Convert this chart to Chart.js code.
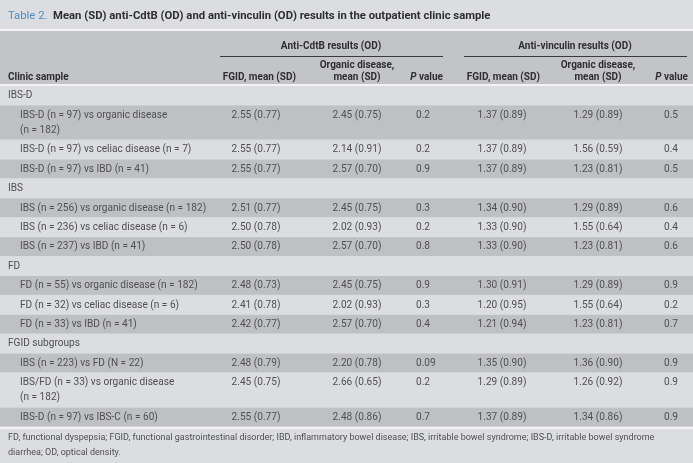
<!DOCTYPE html>
<html>
<head>
<meta charset="utf-8">
<title>Table 2</title>
<script src="https://cdn.jsdelivr.net/npm/chart.js@4.4.0/dist/chart.umd.min.js"></script>
<style>
  html, body { margin: 0; padding: 0; background: #dcdde0; }
  #wrap { width: 693px; height: 463px; position: relative; }
</style>
</head>
<body>
<div id="wrap"><canvas id="tableChart"></canvas></div>
<script>
// ---- table content ----
const title = 'Mean (SD) anti-CdtB (OD) and anti-vinculin (OD) results in the outpatient clinic sample';
const groups = ['IBS-D', 'IBS', 'FD', 'FGID subgroups'];
const comparisons = [
    ['IBS-D (n = 97) vs organic disease', '(n = 182)'],
    ['IBS-D (n = 97) vs celiac disease (n = 7)'],
    ['IBS-D (n = 97) vs IBD (n = 41)'],
    ['IBS (n = 256) vs organic disease (n = 182)'],
    ['IBS (n = 236) vs celiac disease (n = 6)'],
    ['IBS (n = 237) vs IBD (n = 41)'],
    ['FD (n = 55) vs organic disease (n = 182)'],
    ['FD (n = 32) vs celiac disease (n = 6)'],
    ['FD (n = 33) vs IBD (n = 41)'],
    ['IBS (n = 223) vs FD (N = 22)'],
    ['IBS/FD (n = 33) vs organic disease', '(n = 182)'],
    ['IBS-D (n = 97) vs IBS-C (n = 60)']
];
const comparisonGroup = [0, 0, 0, 1, 1, 1, 2, 2, 2, 3, 3, 3];

const cdtbFgidMean = [2.55, 2.55, 2.55, 2.51, 2.50, 2.50, 2.48, 2.41, 2.42, 2.48, 2.45, 2.55];
const cdtbFgidSd   = [0.77, 0.77, 0.77, 0.77, 0.78, 0.78, 0.73, 0.78, 0.77, 0.79, 0.75, 0.77];
const cdtbOrgMean  = [2.45, 2.14, 2.57, 2.45, 2.02, 2.57, 2.45, 2.02, 2.57, 2.20, 2.66, 2.48];
const cdtbOrgSd    = [0.75, 0.91, 0.70, 0.75, 0.93, 0.70, 0.75, 0.93, 0.70, 0.78, 0.65, 0.86];
const cdtbP        = ['0.2', '0.2', '0.9', '0.3', '0.2', '0.8', '0.9', '0.3', '0.4', '0.09', '0.2', '0.7'];

const vincFgidMean = [1.37, 1.37, 1.37, 1.34, 1.33, 1.33, 1.30, 1.20, 1.21, 1.35, 1.29, 1.37];
const vincFgidSd   = [0.89, 0.89, 0.89, 0.90, 0.90, 0.90, 0.91, 0.95, 0.94, 0.90, 0.89, 0.89];
const vincOrgMean  = [1.29, 1.56, 1.23, 1.29, 1.55, 1.23, 1.29, 1.55, 1.23, 1.36, 1.26, 1.34];
const vincOrgSd    = [0.89, 0.59, 0.81, 0.89, 0.64, 0.81, 0.89, 0.64, 0.81, 0.90, 0.92, 0.86];
const vincP        = ['0.5', '0.4', '0.5', '0.6', '0.4', '0.6', '0.9', '0.2', '0.7', '0.9', '0.9', '0.9'];

const footnote = [
    'FD, functional dyspepsia; FGID, functional gastrointestinal disorder; IBD, inflammatory bowel disease; IBS, irritable bowel syndrome; IBS-D, irritable bowel syndrome',
    'diarrhea; OD, optical density.'
];

// ---- look ----
const FONT = '"Roboto", "Liberation Sans", Arial, sans-serif';
const colLight = '#dcdde0';
const colDark = '#bfc0c3';
const colHeader = '#c3c4c7';
const colRule = '#f3f3f4';
const colText = '#505052';
const colHead = '#2f2f31';
const colBlue = '#4a8fc8';

// column anchors (x scale units = px)
const cols = [
    { x: 256, align: 'center' },
    { x: 357, align: 'center' },
    { x: 416, align: 'left' },
    { x: 502, align: 'center' },
    { x: 598, align: 'center' },
    { x: 664, align: 'left' }
];
const pad = 0.27; // extra row room in line units

// build the row list from the arrays
const fmt = (m, s) => m.toFixed(2) + ' (' + s.toFixed(2) + ')';
const rows = [];
groups.forEach((g, gi) => {
    rows.push({ kind: 'group', text: [g], cells: null, dark: false });
    let k = 0;
    comparisons.forEach((c, i) => {
        if (comparisonGroup[i] !== gi) return;
        rows.push({
            kind: 'item', text: c, dark: k % 2 === 0,
            cells: [fmt(cdtbFgidMean[i], cdtbFgidSd[i]), fmt(cdtbOrgMean[i], cdtbOrgSd[i]), cdtbP[i],
                    fmt(vincFgidMean[i], vincFgidSd[i]), fmt(vincOrgMean[i], vincOrgSd[i]), vincP[i]]
        });
        k++;
    });
});
let acc = 0;
rows.forEach(r => { r.start = acc; acc += r.text.length + pad; r.end = acc; });
const totalUnits = acc;

const tablePlugin = {
    id: 'tablePlugin',
    beforeDatasetsDraw(chart) {
        const ctx = chart.ctx;
        const xs = chart.scales.x, ys = chart.scales.y;
        const top = chart.chartArea.top, bottom = chart.chartArea.bottom;
        const W = chart.width;
        const px = v => xs.getPixelForValue(v);
        ctx.save();
        // title
        ctx.textBaseline = 'middle';
        ctx.font = '11.3px ' + FONT;
        ctx.fillStyle = colBlue;
        ctx.fillText('Table 2.', 8, 16);
        const tw = ctx.measureText('Table 2.  ').width;
        ctx.font = 'bold 11.3px ' + FONT;
        ctx.fillStyle = colHead;
        ctx.fillText(title, 8 + tw, 16);

        // header band
        ctx.fillStyle = colRule;
        ctx.fillRect(0, 29, W, 2);
        ctx.fillStyle = colHeader;
        ctx.fillRect(0, 31, W, top - 33);
        ctx.fillStyle = colRule;
        ctx.fillRect(0, top - 2, W, 2);

        ctx.font = 'bold 10px ' + FONT;
        ctx.fillStyle = colHead;
        ctx.textAlign = 'center';
        ctx.fillText('Anti-CdtB results (OD)', px(331), 46);
        ctx.fillText('Anti-vinculin results (OD)', px(575), 46);
        ctx.strokeStyle = '#3a3a3c';
        ctx.lineWidth = 1;
        ctx.beginPath();
        ctx.moveTo(px(220), 56.5); ctx.lineTo(px(443), 56.5);
        ctx.moveTo(px(464), 56.5); ctx.lineTo(px(687), 56.5);
        ctx.stroke();

        const hy = 77;
        ctx.textAlign = 'left';
        ctx.fillText('Clinic sample', 8, hy);
        ctx.textAlign = 'right';
        ctx.fillText('FGID, mean (SD)', px(296), hy);
        ctx.fillText('FGID, mean (SD)', px(540), hy);
        ctx.textAlign = 'center';
        ctx.fillText('Organic disease,', px(357), 65);
        ctx.fillText('mean (SD)', px(357), hy);
        ctx.fillText('Organic disease,', px(598), 65);
        ctx.fillText('mean (SD)', px(598), hy);
        // "P value" with italic P
        [443, 688].forEach(rx => {
            ctx.font = 'bold 10px ' + FONT;
            const vw = ctx.measureText(' value').width;
            ctx.textAlign = 'right';
            ctx.fillText(' value', px(rx), hy);
            ctx.font = 'italic bold 10px ' + FONT;
            ctx.fillText('P', px(rx) - vw, hy);
        });

        // body rows
        const lh = (ys.getPixelForValue(1) - ys.getPixelForValue(0));
        rows.forEach(r => {
            const y0 = ys.getPixelForValue(r.start), y1 = ys.getPixelForValue(r.end);
            ctx.fillStyle = r.dark ? colDark : colLight;
            ctx.fillRect(0, y0, W, y1 - y0);
            ctx.fillStyle = '#e4e5e7';
            ctx.fillRect(0, y1 - 0.5, W, 0.5);
            ctx.font = '10.1px ' + FONT;
            ctx.fillStyle = colText;
            ctx.textAlign = 'left';
            const firstY = y0 + lh * (pad / 2 + 0.5);
            r.text.forEach((t, j) => {
                ctx.fillText(t, r.kind === 'group' ? 8 : 20, firstY + j * lh);
            });
            if (r.cells) {
                r.cells.forEach((c, j) => {
                    ctx.textAlign = cols[j].align;
                    ctx.fillText(c, px(cols[j].x), firstY);
                });
            }
        });

        // footnote
        ctx.fillStyle = colRule;
        ctx.fillRect(0, bottom, W, 2);
        ctx.fillStyle = colText;
        ctx.textAlign = 'left';
        ctx.font = '9px ' + FONT;
        footnote.forEach((t, j) => ctx.fillText(t, 8, bottom + 11 + j * 15));
        ctx.restore();
    }
};

new Chart(document.getElementById('tableChart'), {
    type: 'scatter',
    data: { datasets: [{ data: [] }] },
    options: {
        responsive: true,
        maintainAspectRatio: false,
        animation: false,
        layout: { padding: { top: 86, bottom: 36, left: 0, right: 0 } },
        plugins: { legend: { display: false }, tooltip: { enabled: false } },
        scales: {
            x: { type: 'linear', min: 0, max: 693, offset: false, display: false },
            y: { type: 'linear', min: 0, max: totalUnits, reverse: true, offset: false, display: false }
        }
    },
    plugins: [tablePlugin]
});
</script>
</body>
</html>
